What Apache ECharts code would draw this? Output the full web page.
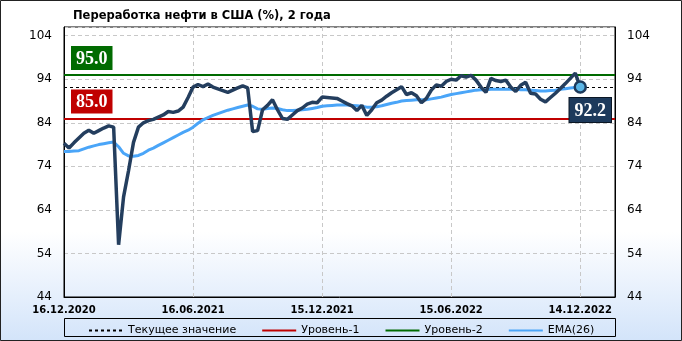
<!DOCTYPE html>
<html><head><meta charset="utf-8">
<script src="https://cdn.jsdelivr.net/npm/echarts@6/dist/echarts.min.js"></script>
<style>html,body{margin:0;padding:0;background:#fff}#c{width:682px;height:341px}</style>
</head><body><div id="c"></div>
<script>
// ---- data ----
const titleText = 'Переработка нефти в США (%), 2 года';
const startDate = [2020, 11, 16];     // 16.12.2020, weekly
const weeksOnAxis = 112;              // axis runs a few weeks past the last value
const labelEveryWeeks = 26;

const refinery = [
  79.3, 78.2, 79.4, 80.5, 81.6, 82.3, 81.6, 82.2, 82.8, 83.3,
  83.0, 56.0, 67.0, 73.0, 79.5, 83.0, 84.0, 84.5, 84.8, 85.3,
  85.8, 86.6, 86.4, 86.7, 87.6, 89.8, 92.2, 92.8, 92.3, 92.9,
  92.2, 91.8, 91.4, 91.0, 91.5, 92.0, 92.5, 92.0, 82.0, 82.2,
  87.0, 88.0, 89.3, 87.0, 85.0, 84.8, 85.8, 86.8, 87.4, 88.3,
  88.7, 88.6, 89.9, 89.8, 89.7, 89.6, 89.0, 88.4, 87.9, 86.8,
  88.0, 85.7, 87.0, 88.6, 89.2, 90.1, 90.9, 91.6, 92.3, 90.5,
  90.9, 90.2, 88.6, 89.6, 91.5, 92.7, 92.4, 93.5, 94.0, 93.8,
  94.8, 94.5, 94.9, 93.8, 92.2, 91.0, 94.2, 93.7, 93.5, 93.8,
  92.2, 91.2, 92.6, 93.3, 90.8, 90.6, 89.4, 88.8, 89.8, 90.8,
  91.9, 93.0, 94.2, 95.4, 92.2
];
const ema26 = [
  77.4, 77.4, 77.5, 77.6, 78.0, 78.4, 78.7, 79.0, 79.2, 79.4,
  79.6, 78.5, 77.0, 76.4, 76.3, 76.5, 77.0, 77.7, 78.2, 78.8,
  79.4, 80.0, 80.6, 81.2, 81.8, 82.3, 83.0, 83.9, 84.7, 85.2,
  85.7, 86.1, 86.5, 86.9, 87.2, 87.5, 87.8, 88.1, 87.8, 87.2,
  87.1, 87.3, 87.4, 87.3, 87.0, 86.8, 86.8, 86.9, 87.0, 87.1,
  87.3, 87.5, 87.8, 87.9, 88.0, 88.1, 88.1, 88.1, 88.0, 87.9,
  87.8, 87.6, 87.6, 87.7, 87.9, 88.2, 88.5, 88.7, 89.0, 89.1,
  89.2, 89.3, 89.3, 89.3, 89.5, 89.7, 89.9, 90.2, 90.5, 90.7,
  90.9, 91.1, 91.3, 91.5, 91.6, 91.6, 91.7, 91.7, 91.7, 91.7,
  91.7, 91.7, 91.6, 91.6, 91.5, 91.4, 91.3, 91.3, 91.4, 91.5,
  91.7, 91.8, 92.0, 92.1, 92.2
];
const level1 = 85.0;
const level2 = 95.0;
const yMin = 44, yMax = 106, yStep = 10;
const legendNames = ['Текущее значение', 'Уровень-1', 'Уровень-2', 'EMA(26)'];

// ---- build ----
function pad(n){ return (n < 10 ? '0' : '') + n; }
const categories = [];
for (let i = 0; i < weeksOnAxis; i++) {
  const d = new Date(Date.UTC(startDate[0], startDate[1], startDate[2]) + i * 7 * 864e5);
  categories.push(pad(d.getUTCDate()) + '.' + pad(d.getUTCMonth() + 1) + '.' + d.getUTCFullYear());
}
const lastIdx = refinery.length - 1;
const current = refinery[lastIdx];
const mainData = refinery.map((v, i) => i === lastIdx ? {
  value: v, symbol: 'circle', symbolSize: 11,
  itemStyle: { color: '#5cb6e6', borderColor: '#1d3a5c', borderWidth: 2.5 }
} : v);

const boxLabel = (txt, bg, pos) => ({
  show: true, formatter: txt, position: pos,
  color: '#fff', backgroundColor: bg, fontFamily: 'Liberation Serif',
  fontWeight: 'bold', fontSize: 18, padding: [4, 5, 2, 5], distance: [7, 5]
});

const chart = echarts.init(document.getElementById('c'), null, { renderer: 'canvas' });
const yAxisBase = {
  type: 'value', min: yMin, max: yMax, interval: yStep,
  axisLine: { show: true, lineStyle: { color: '#000', width: 1 } },
  axisTick: { show: false },
  axisLabel: { color: '#000', fontFamily: 'DejaVu Sans', fontSize: 12, margin: 12, showMaxLabel: false,
    formatter: v => ((v - yMin) % yStep === 0 ? String(v) : '') }
};
chart.setOption({
  animation: false,
  backgroundColor: {
    type: 'linear', x: 0, y: 0, x2: 0, y2: 1,
    colorStops: [{ offset: 0, color: '#ffffff' }, { offset: 0.68, color: '#ffffff' }, { offset: 1, color: '#d3e4fa' }]
  },
  title: {
    text: titleText, left: 68, top: 5,
    textStyle: { fontFamily: 'DejaVu Sans', fontWeight: 'bold', fontSize: 11.5, color: '#000' }
  },
  grid: { left: 64, right: 67, top: 27, bottom: 44, show: true, borderColor: '#000', borderWidth: 1, containLabel: false, outerBoundsMode: 'none' },
  legend: {
    data: legendNames, left: 83, top: 320, itemGap: 25, itemWidth: 34, itemHeight: 10,
    itemStyle: { opacity: 0 },
    textStyle: { fontFamily: 'DejaVu Sans', fontSize: 11, color: '#000' }
  },
  graphic: [
    { type: 'rect', shape: { x: 64.5, y: 318.5, width: 551, height: 18 }, style: { fill: 'none', stroke: '#000', lineWidth: 1 }, silent: true },
    { type: 'rect', shape: { x: 0.5, y: 0.5, width: 681, height: 340 }, style: { fill: 'none', stroke: '#222', lineWidth: 1 }, silent: true }
  ],
  xAxis: {
    type: 'category', data: categories, boundaryGap: false,
    axisLine: { show: true, lineStyle: { color: '#000' } },
    axisTick: { show: false },
    axisLabel: { interval: labelEveryWeeks - 1, color: '#000', fontFamily: 'DejaVu Sans', fontWeight: 'bold', fontSize: 10, margin: 8 },
    splitLine: { show: true, interval: labelEveryWeeks - 1, lineStyle: { color: '#c8c8c8', type: [4, 3] } }
  },
  yAxis: [
    Object.assign({}, yAxisBase, { position: 'left', splitLine: { show: true, lineStyle: { color: '#c8c8c8', type: [4, 3] } } }),
    Object.assign({}, yAxisBase, { position: 'right', splitLine: { show: false } })
  ],
  series: [
    { name: 'Уровень-1', type: 'line', data: [], z: 2, color: '#c00000', symbol: 'none',
      lineStyle: { color: '#c00000', width: 2 },
      markLine: { silent: true, symbol: 'none', lineStyle: { color: '#c00000', width: 2, type: 'solid' },
        label: boxLabel(level1.toFixed(1), '#c00000', 'insideStartTop'), data: [{ yAxis: level1 }] } },
    { name: 'Уровень-2', type: 'line', data: [], z: 2, color: '#006b00', symbol: 'none',
      lineStyle: { color: '#006b00', width: 2 },
      markLine: { silent: true, symbol: 'none', lineStyle: { color: '#006b00', width: 2, type: 'solid' },
        label: boxLabel(level2.toFixed(1), '#006b00', 'insideStartTop'), data: [{ yAxis: level2 }] } },
    { name: 'Текущее значение', type: 'line', data: [], z: 4, color: '#000', symbol: 'none',
      lineStyle: { color: '#000', width: 1, type: [3, 3] },
      markLine: { silent: true, symbol: 'none', lineStyle: { color: '#000', width: 1, type: [3, 3] },
        label: Object.assign(boxLabel(current.toFixed(1), '#1d3a5c', 'insideEndBottom'),
          { borderColor: '#0a1624', borderWidth: 1, distance: [4, 11] }),
        data: [{ yAxis: current }] } },
    { name: 'EMA(26)', type: 'line', data: ema26, z: 5, symbol: 'none', color: '#4aa5f8',
      lineStyle: { color: '#4aa5f8', width: 3 } },
    { name: 'Переработка', type: 'line', data: mainData, z: 6, symbol: 'none', showSymbol: true, showAllSymbol: true,
      color: '#243e5e', lineStyle: { color: '#243e5e', width: 3.5 } }
  ]
});
</script>
</body></html>
